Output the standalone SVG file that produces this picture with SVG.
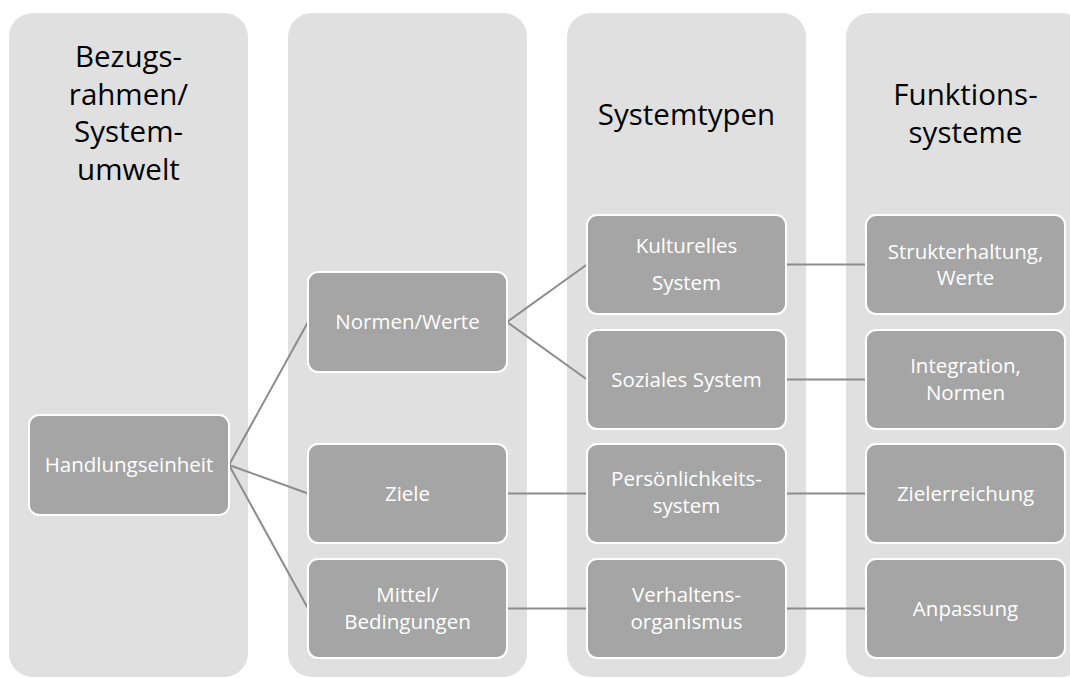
<svg xmlns="http://www.w3.org/2000/svg" width="1070" height="678" viewBox="0 0 1070 678">
<style>
.col{fill:#e0e0e0;}
.node rect{fill:#a5a5a5;stroke:#ffffff;stroke-width:2;}
.hd{font-family:"Open Sans","Liberation Sans",sans-serif;font-size:29.5px;fill:#000000;text-anchor:middle;}
.nt{font-family:"Open Sans","Liberation Sans",sans-serif;font-size:20.5px;fill:#ffffff;text-anchor:middle;}
.conn line{stroke:#8c8c8c;stroke-width:2;fill:none;}
</style>
<rect width="1070" height="678" fill="#ffffff"/>
<g id="col1">
<rect class="col" x="9" y="13" width="239" height="664" rx="24"/>
<text class="hd" x="128.5" y="67">Bezugs-</text>
<text class="hd" x="128.5" y="104.5">rahmen/</text>
<text class="hd" x="128.5" y="142">System-</text>
<text class="hd" x="128.5" y="180">umwelt</text>
</g>
<g id="col2">
<rect class="col" x="288" y="13" width="239" height="664" rx="24"/>
</g>
<g id="col3">
<rect class="col" x="567" y="13" width="239" height="664" rx="24"/>
<text class="hd" x="686.5" y="125">Systemtypen</text>
</g>
<g id="col4">
<rect class="col" x="846" y="13" width="239" height="664" rx="24"/>
<text class="hd" x="965.5" y="105">Funktions-</text>
<text class="hd" x="965.5" y="143">systeme</text>
</g>
<g id="connectors" class="conn">
<line x1="229" y1="465" x2="308" y2="322"/>
<line x1="229" y1="465" x2="308" y2="493.5"/>
<line x1="229" y1="465" x2="308" y2="608.5"/>
<line x1="507" y1="322" x2="587" y2="264.5"/>
<line x1="507" y1="322" x2="587" y2="379.5"/>
<line x1="507" y1="493.5" x2="587" y2="493.5"/>
<line x1="507" y1="608.5" x2="587" y2="608.5"/>
<line x1="786" y1="264.5" x2="866" y2="264.5"/>
<line x1="786" y1="379.5" x2="866" y2="379.5"/>
<line x1="786" y1="493.5" x2="866" y2="493.5"/>
<line x1="786" y1="608.5" x2="866" y2="608.5"/>
</g>
<g id="handlungseinheit" class="node">
<rect x="29" y="415" width="200" height="100" rx="10"/>
<text class="nt" x="129" y="472">Handlungseinheit</text>
</g>
<g id="normen-werte" class="node">
<rect x="308" y="272" width="199" height="100" rx="10"/>
<text class="nt" x="407.5" y="329">Normen/Werte</text>
</g>
<g id="ziele" class="node">
<rect x="308" y="444" width="199" height="99" rx="10"/>
<text class="nt" x="407.5" y="500.5">Ziele</text>
</g>
<g id="mittel" class="node">
<rect x="308" y="559" width="199" height="99" rx="10"/>
<text class="nt" x="407.5" y="602">Mittel/</text>
<text class="nt" x="407.5" y="628.5">Bedingungen</text>
</g>
<g id="kulturelles-system" class="node">
<rect x="587" y="215" width="199" height="99" rx="10"/>
<text class="nt" x="686.5" y="253">Kulturelles</text>
<text class="nt" x="686.5" y="290">System</text>
</g>
<g id="soziales-system" class="node">
<rect x="587" y="330" width="199" height="99" rx="10"/>
<text class="nt" x="686.5" y="386.5">Soziales System</text>
</g>
<g id="persoenlichkeitssystem" class="node">
<rect x="587" y="444" width="199" height="99" rx="10"/>
<text class="nt" x="686.5" y="486">Persönlichkeits-</text>
<text class="nt" x="686.5" y="512.5">system</text>
</g>
<g id="verhaltensorganismus" class="node">
<rect x="587" y="559" width="199" height="99" rx="10"/>
<text class="nt" x="686.5" y="602">Verhaltens-</text>
<text class="nt" x="686.5" y="628.5">organismus</text>
</g>
<g id="strukterhaltung" class="node">
<rect x="866" y="215" width="199" height="99" rx="10"/>
<text class="nt" x="965.5" y="258.5">Strukterhaltung,</text>
<text class="nt" x="965.5" y="285">Werte</text>
</g>
<g id="integration" class="node">
<rect x="866" y="330" width="199" height="99" rx="10"/>
<text class="nt" x="965.5" y="373">Integration,</text>
<text class="nt" x="965.5" y="399.5">Normen</text>
</g>
<g id="zielerreichung" class="node">
<rect x="866" y="444" width="199" height="99" rx="10"/>
<text class="nt" x="965.5" y="500.5">Zielerreichung</text>
</g>
<g id="anpassung" class="node">
<rect x="866" y="559" width="199" height="99" rx="10"/>
<text class="nt" x="965.5" y="615.5">Anpassung</text>
</g>
</svg>
